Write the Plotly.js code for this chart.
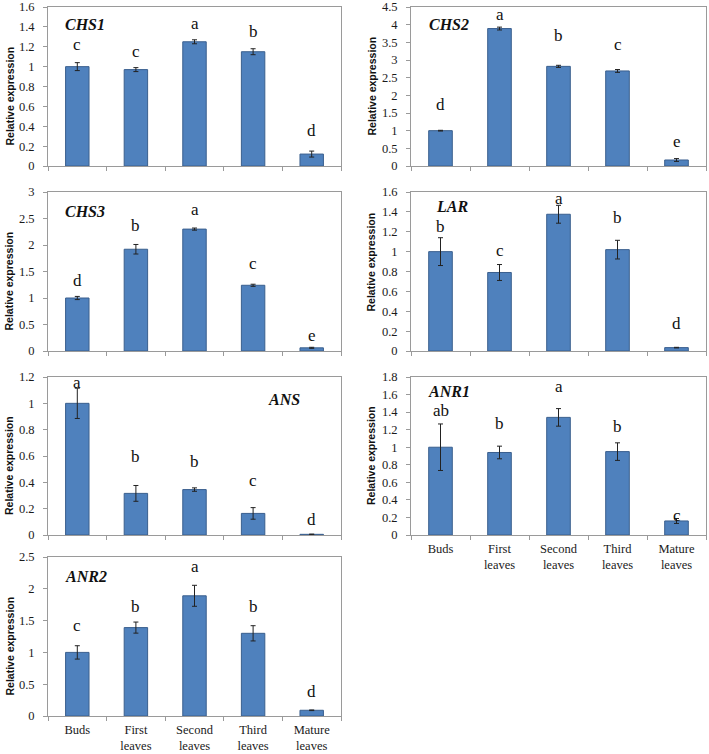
<!DOCTYPE html>
<html><head><meta charset="utf-8">
<script src="https://cdn.plot.ly/plotly-3.0.1.min.js"></script>
<style>html,body{margin:0;padding:0;background:#fff}#chart{width:709px;height:754px}</style>
</head><body><div id="chart"></div>
<script>
const categories = ['Buds','First<br>leaves','Second<br>leaves','Third<br>leaves','Mature<br>leaves'];
const genes = ['CHS1','CHS2','CHS3','LAR','ANS','ANR1','ANR2'];

const chs1 = [1.0, 0.97, 1.25, 1.15, 0.12];
const chs1Err = [0.04, 0.02, 0.02, 0.03, 0.03];
const chs1Letters = ['c','c','a','b','d'];
const chs1LetterY = [1.22, 1.15, 1.43, 1.35, 0.36];

const chs2 = [1.0, 3.89, 2.82, 2.69, 0.17];
const chs2Err = [0.01, 0.04, 0.03, 0.04, 0.04];
const chs2Letters = ['d','a','b','c','e'];
const chs2LetterY = [1.73, 4.28, 3.68, 3.43, 0.68];

const chs3 = [1.0, 1.92, 2.30, 1.24, 0.06];
const chs3Err = [0.03, 0.09, 0.02, 0.02, 0.01];
const chs3Letters = ['d','b','a','c','e'];
const chs3LetterY = [1.33, 2.36, 2.67, 1.66, 0.30];

const lar = [1.0, 0.79, 1.376, 1.02, 0.034];
const larErr = [0.14, 0.08, 0.09, 0.094, 0.003];
const larLetters = ['b','c','a','b','d'];
const larLetterY = [1.25, 1.01, 1.53, 1.34, 0.275];

const ans = [1.0, 0.316, 0.345, 0.164, 0.005];
const ansErr = [0.115, 0.06, 0.013, 0.044, 0.002];
const ansLetters = ['a','b','b','c','d'];
const ansLetterY = [1.16, 0.60, 0.556, 0.417, 0.121];

const anr1 = [1.0, 0.94, 1.34, 0.95, 0.16];
const anr1Err = [0.265, 0.072, 0.10, 0.10, 0.028];
const anr1Letters = ['ab','b','a','b','c'];
const anr1LetterY = [1.42, 1.27, 1.69, 1.24, 0.225];

const anr2 = [1.0, 1.39, 1.89, 1.30, 0.09];
const anr2Err = [0.105, 0.087, 0.165, 0.12, 0.005];
const anr2Letters = ['c','b','a','b','d'];
const anr2LetterY = [1.43, 1.72, 2.35, 1.72, 0.38];

const yMax = [1.6, 4.5, 3, 1.6, 1.2, 1.8, 2.5];
const yStep = [0.2, 0.5, 0.5, 0.2, 0.2, 0.2, 0.5];

const W = 709, H = 754;
const colX = [[48/W, 341/W], [411/W, 706/W]];
const rowY = [[1-166/H, 1-7/H], [1-351/H, 1-192/H], [1-535/H, 1-377/H], [1-716/H, 1-557/H]];

const panels = [
  {v: chs1, e: chs1Err, l: chs1Letters, ly: chs1LetterY, col: 0, row: 0, gx: 0.051, gy: 0.893, showX: false, tOff: -10},
  {v: chs2, e: chs2Err, l: chs2Letters, ly: chs2LetterY, col: 1, row: 0, gx: 0.053, gy: 0.893, showX: false, tOff: 0},
  {v: chs3, e: chs3Err, l: chs3Letters, ly: chs3LetterY, col: 0, row: 1, gx: 0.051, gy: 0.876, showX: false, tOff: -10},
  {v: lar,  e: larErr,  l: larLetters,  ly: larLetterY,  col: 1, row: 1, gx: 0.078, gy: 0.906, showX: false, tOff: 9},
  {v: ans,  e: ansErr,  l: ansLetters,  ly: ansLetterY,  col: 0, row: 2, gx: 0.743, gy: 0.859, showX: false, tOff: -10},
  {v: anr1, e: anr1Err, l: anr1Letters, ly: anr1LetterY, col: 1, row: 2, gx: 0.05, gy: 0.907, showX: true, tOff: 0},
  {v: anr2, e: anr2Err, l: anr2Letters, ly: anr2LetterY, col: 0, row: 3, gx: 0.05, gy: 0.876, showX: true, tOff: -10}
];

const serif = 'Liberation Serif';
const traces = [];
const layout = {
  width: W, height: H,
  margin: {l: 0, r: 0, t: 0, b: 0},
  paper_bgcolor: '#fff', plot_bgcolor: '#fff',
  showlegend: false,
  bargap: 0.6,
  font: {family: serif},
  annotations: []
};

panels.forEach((p, i) => {
  const n = i + 1;
  const xa = 'x' + (n === 1 ? '' : n), ya = 'y' + (n === 1 ? '' : n);
  traces.push({
    type: 'bar', x: categories, y: p.v, xaxis: xa, yaxis: ya,
    marker: {color: '#4F81BD', line: {color: '#3A5F8E', width: 1}},
    error_y: {type: 'data', array: p.e, visible: true, color: '#222', thickness: 1, width: 2.5},
    hoverinfo: 'none'
  });
  layout['xaxis' + (n === 1 ? '' : n)] = {
    domain: colX[p.col], anchor: ya, type: 'category',
    showline: true, linecolor: '#9a9a9a', linewidth: 1, mirror: true,
    ticks: 'outside', tickson: 'boundaries', ticklen: 4, tickcolor: '#9a9a9a', ticklabelstandoff: 2,
    showticklabels: p.showX, tickfont: {family: serif, size: 12.5, color: '#1a1a1a'},
    showgrid: false, zeroline: false, fixedrange: true
  };
  layout['yaxis' + (n === 1 ? '' : n)] = {
    domain: rowY[p.row], anchor: xa,
    range: [0, yMax[i]], dtick: yStep[i], tick0: 0,
    showline: true, linecolor: '#9a9a9a', linewidth: 1, mirror: true,
    ticks: 'outside', ticklen: 4, tickcolor: '#9a9a9a', ticklabelstandoff: 6,
    tickfont: {family: serif, size: 12.5, color: '#1a1a1a'},
    showgrid: false, zeroline: false, fixedrange: true
  };
  p.l.forEach((t, k) => {
    layout.annotations.push({
      xref: xa, yref: ya, x: categories[k], y: p.ly[k], text: t,
      showarrow: false, font: {family: serif, size: 17, color: '#111'}
    });
  });
  layout.annotations.push({
    xref: xa + ' domain', yref: ya + ' domain', x: p.gx, y: p.gy, xanchor: 'left', yanchor: 'middle',
    text: '<b><i>' + genes[i] + '</i></b>', showarrow: false,
    font: {family: serif, size: 16, color: '#111'}
  });
  const yd = rowY[p.row];
  layout.annotations.push({
    xref: 'paper', yref: 'paper', x: p.col === 0 ? 9/W : 371/W, y: (yd[0] + yd[1]) / 2,
    xanchor: 'center', yanchor: 'middle', textangle: -90, yshift: p.tOff,
    text: '<b>Relative expression</b>', showarrow: false,
    font: {family: 'Liberation Sans', size: 10.5, color: '#111'}
  });
});

Plotly.newPlot('chart', traces, layout, {staticPlot: true, displayModeBar: false});
</script></body></html>
